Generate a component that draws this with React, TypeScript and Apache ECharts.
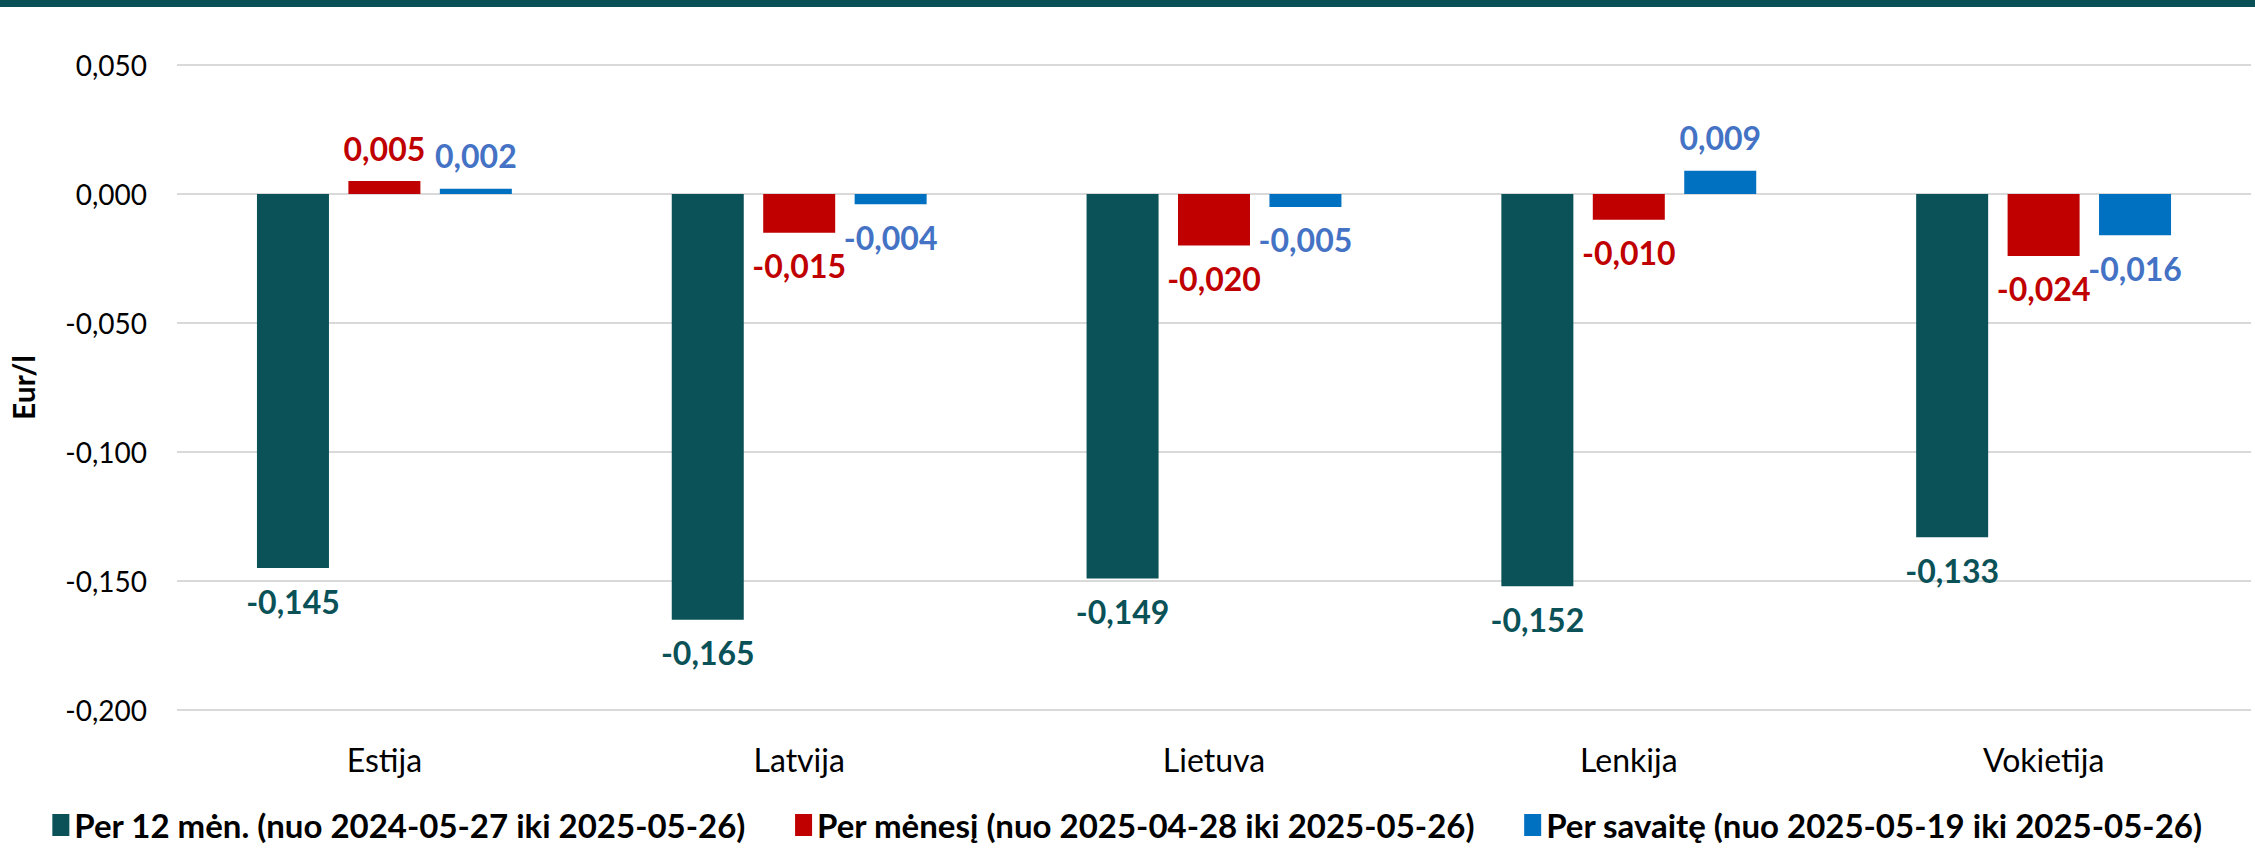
import React, { useEffect, useRef } from "react";
import * as echarts from "echarts";

const categories = ["Estija", "Latvija", "Lietuva", "Lenkija", "Vokietija"];
const seriesNames = [
  "Per 12 mėn. (nuo 2024-05-27 iki 2025-05-26)",
  "Per mėnesį (nuo 2025-04-28 iki 2025-05-26)",
  "Per savaitę (nuo 2025-05-19 iki 2025-05-26)",
];
const year12 = [-0.145, -0.165, -0.149, -0.152, -0.133];
const month = [0.005, -0.015, -0.02, -0.01, -0.024];
const week = [0.002, -0.004, -0.005, 0.009, -0.016];

const barColors = ["#0a5158", "#c00000", "#0070c0"];
const labelColors = ["#0a5158", "#c00000", "#4472c4"];

const FONT = "Lato, 'Open Sans', sans-serif";

const fmt = (v: number) => {
  const s = Math.abs(v) < 1e-9 ? "0,000" : v.toFixed(3).replace(".", ",");
  return s;
};

export default function App() {
  const ref = useRef<HTMLDivElement>(null);
  useEffect(() => {
    document.body.style.margin = "0";
    const chart = echarts.init(ref.current!, null, { renderer: "svg" });
    const datasets = [year12, month, week];
    chart.setOption({
      animation: false,
      backgroundColor: "#ffffff",
      textStyle: { fontFamily: FONT },
      graphic: [
        {
          type: "rect",
          left: 0,
          top: 0,
          shape: { width: 2255, height: 7 },
          style: { fill: "#0a5057" },
        },
      ],
      grid: { left: 170, right: 4, top: 65, bottom: 138 },
      legend: {
        top: 806,
        left: "center",
        padding: 0,
        icon: "rect",
        itemWidth: 17,
        itemHeight: 22,
        itemGap: 49,
        textStyle: { fontFamily: FONT, fontSize: 33, fontWeight: "bold", color: "#000", lineHeight: 38 },
        data: seriesNames,
      },
      xAxis: {
        type: "category",
        data: categories,
        axisLine: { show: false, onZero: false },
        axisTick: { show: false },
        axisLabel: { fontFamily: FONT, fontSize: 32, color: "#000", margin: 33 },
      },
      yAxis: {
        type: "value",
        min: -0.2,
        max: 0.05,
        interval: 0.05,
        name: "Eur/l",
        nameLocation: "middle",
        nameRotate: 90,
        nameGap: 139,
        nameTextStyle: { fontFamily: FONT, fontSize: 30, fontWeight: "bold", color: "#000" },
        axisLine: { show: false },
        axisTick: { show: false },
        splitLine: { lineStyle: { color: "#d9d9d9", width: 2 } },
        axisLabel: {
          fontFamily: FONT,
          fontSize: 28,
          color: "#000",
          margin: 30,
          formatter: (v: number) => fmt(v),
        },
      },
      series: datasets.map((d, i) => ({
        name: seriesNames[i],
        type: "bar",
        data: d,
        barWidth: 72,
        barGap: "27%",
        itemStyle: { color: barColors[i] },
        label: {
          show: true,
          position: "outside",
          distance: 17,
          fontFamily: FONT,
          fontSize: 32,
          fontWeight: "bold",
          color: labelColors[i],
          formatter: (p: any) => fmt(p.value),
        },
      })),
    });
    return () => chart.dispose();
  }, []);
  return <div ref={ref} style={{ width: 2255, height: 848 }} />;
}
